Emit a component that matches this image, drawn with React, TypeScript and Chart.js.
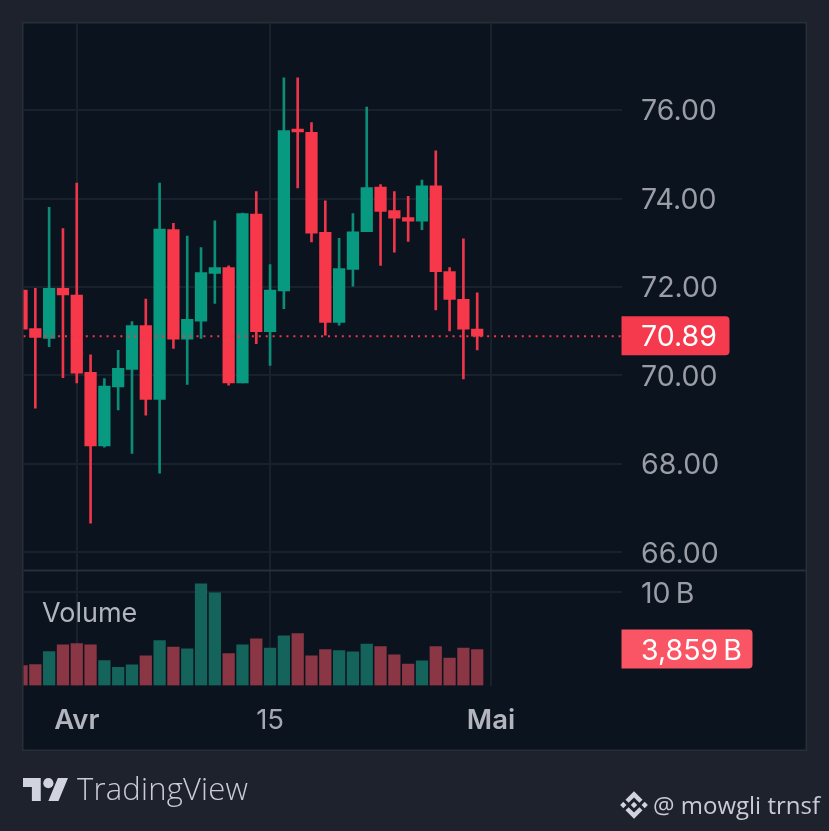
import React, { useEffect, useRef } from "react";
import { Chart, registerables } from "chart.js";

Chart.register(...registerables);

// Day offsets from 1 April; day -4 is clipped by the left edge of the panel.
const days = [-4,-3,-2,-1,0,1,2,3,4,5,6,7,8,9,10,11,12,13,14,15,16,17,18,19,20,21,22,23,24,25,26,27,28,29];
const opens = [71.93,71.06,70.84,71.97,71.82,70.07,68.41,69.74,70.14,71.13,69.46,73.30,70.82,71.23,72.31,72.44,69.83,73.65,70.99,71.91,75.57,75.50,73.24,71.20,72.40,73.25,74.26,73.73,73.57,73.49,74.29,72.35,71.72,71.05];
const highs = [72.20,71.97,73.80,73.32,74.35,70.47,69.93,70.57,71.22,71.73,74.35,73.44,73.15,72.89,73.50,72.48,73.67,74.16,72.51,76.73,76.73,75.72,73.95,73.10,73.66,76.07,74.32,74.16,74.05,74.42,75.08,72.44,73.09,71.87];
const lows = [70.00,69.26,70.65,69.95,69.83,66.66,68.38,69.22,68.24,69.10,67.79,70.61,69.80,70.84,71.63,69.78,69.83,70.72,70.23,71.51,74.24,73.02,70.91,71.14,72.02,73.25,72.49,72.79,73.03,73.30,71.48,71.01,69.92,70.58];
const closes = [71.05,70.86,71.97,71.82,70.05,68.41,69.76,70.16,71.13,69.46,73.31,70.82,71.27,72.33,72.44,69.83,73.66,70.99,71.93,75.54,75.51,73.22,71.20,72.42,73.25,74.25,73.71,73.56,73.49,74.29,72.35,71.72,71.05,70.89];
const volumes = [2.14,2.25,3.64,4.36,4.5,4.36,2.68,1.96,2.21,3.18,4.82,4.11,3.93,10.89,9.93,3.43,4.36,5.0,4.0,5.32,5.57,3.18,3.86,3.75,3.61,4.43,4.18,3.29,2.29,2.64,4.18,2.93,4.0,3.859];
const priceTicks = [66, 68, 70, 72, 74, 76];
const volumeTicks = [10];
const dateTicks = [0, 14, 30];
const dateLabels = ["Avr", "15", "Mai"];
const boldDates = [true, false, true];
const lastPrice = 70.89;
const lastVolumeLabel = "3,859\u2009B";
const lastVolume = 3.859;

const FONT = "Inter, 'Noto Sans', sans-serif";
const UP = "#089981";
const DOWN = "#f7374a";
const UP_WICK = "#0b8d78";
const DOWN_WICK = "#ee364a";
const UP_VOL = "#15645c";
const DOWN_VOL = "#8a3644";
const GRID = "#18222d";
const TEXT = "#9a9da6";

const isUp = (i: number) => closes[i] >= opens[i];

const noPadding = (s: any) => {
  s.paddingTop = 0;
  s.paddingBottom = 0;
  s.paddingLeft = 0;
  s.paddingRight = 0;
};

const panelPlugin = {
  id: "panel",
  beforeDraw(chart: any) {
    const { ctx, width, height } = chart;
    ctx.save();
    ctx.fillStyle = "#1e222d";
    ctx.fillRect(0, 0, width, height);
    ctx.fillStyle = "#2a2e39";
    ctx.fillRect(22, 22, 785, 729);
    ctx.fillStyle = "#0b131e";
    ctx.fillRect(23.5, 23.5, 782, 726);
    ctx.restore();
  },
  afterDraw(chart: any) {
    const { ctx } = chart;
    const y = chart.scales.y;
    const yv = chart.scales.yv;
    ctx.save();
    // pane separator
    ctx.fillStyle = "#2a2e39";
    ctx.fillRect(23.5, y.bottom - 1, 782, 2);
    const tag = (text: string, cy: number, w: number, color: string) => {
      ctx.fillStyle = color;
      ctx.beginPath();
      ctx.roundRect(621.5, cy - 20, w, 39, [0, 4, 4, 0]);
      ctx.fill();
      ctx.fillStyle = "#ffffff";
      ctx.font = `28.5px ${FONT}`;
      ctx.textBaseline = "middle";
      ctx.textAlign = "left";
      ctx.fillText(text, 641, cy + 1.5);
    };
    tag(lastPrice.toFixed(2), y.getPixelForValue(lastPrice), 108, "#f43a4c");
    tag(lastVolumeLabel, yv.getPixelForValue(lastVolume), 131, "#fa5565");
    ctx.restore();
  },
};

export default function App() {
  const ref = useRef<HTMLCanvasElement>(null);
  useEffect(() => {
    const xMin = -3.857;
    const xMax = 39.45;
    const chart = new Chart(ref.current as HTMLCanvasElement, {
      type: "bar",
      data: {
        datasets: [
          {
            type: "bar",
            label: "Wick",
            yAxisID: "y",
            data: days.map((d, i) => ({ x: d, y: [lows[i], highs[i]] })),
            backgroundColor: days.map((_, i) => (isUp(i) ? UP_WICK : DOWN_WICK)),
            barThickness: 2,
            grouped: false,
            order: 3,
          },
          {
            type: "bar",
            label: "Body",
            yAxisID: "y",
            data: days.map((d, i) => ({ x: d, y: [opens[i], closes[i]] })),
            backgroundColor: days.map((_, i) => (isUp(i) ? UP : DOWN)),
            barThickness: 11.6,
            grouped: false,
            order: 2,
          },
          {
            type: "bar",
            label: "Volume",
            yAxisID: "yv",
            data: days.map((d, i) => ({ x: d, y: volumes[i] })),
            backgroundColor: days.map((_, i) => (isUp(i) ? UP_VOL : DOWN_VOL)),
            barThickness: 11.6,
            grouped: false,
            order: 2,
          },
          {
            type: "line",
            label: "Last",
            yAxisID: "y",
            data: [
              { x: xMin, y: lastPrice },
              { x: xMax, y: lastPrice },
            ],
            borderColor: "#f23645",
            borderWidth: 2,
            borderDash: [2, 4.92],
            pointRadius: 0,
            order: 1,
          },
        ] as any,
      },
      options: {
        responsive: false,
        animation: false,
        events: [],
        layout: { padding: { left: 23.5, right: 23, top: 23.5, bottom: 81 } },
        plugins: { legend: { display: false }, tooltip: { enabled: false }, title: { display: false } },
        scales: {
          x: {
            type: "linear",
            offset: false,
            min: xMin,
            max: xMax,
            grid: { color: GRID, lineWidth: 2, drawTicks: false, offset: false },
            border: { display: false },
            afterBuildTicks: (s: any) => {
              s.ticks = dateTicks.map((v) => ({ value: v }));
            },
            afterFit: (s: any) => {
              s.height = 64.5;
              noPadding(s);
            },
            ticks: {
              autoSkip: false,
              maxRotation: 0,
              padding: 19,
              color: (c: any) => (boldDates[c.index] ? "#b2b5be" : "#a5a8b1"),
              font: (c: any) => ({ family: FONT, size: 27.5, weight: boldDates[c.index] ? "600" : "400" }),
              callback: (_: any, i: number) => dateLabels[i],
            },
          },
          y: {
            type: "linear",
            position: "right",
            stack: "panes",
            stackWeight: 547,
            weight: 0,
            min: 65.59,
            max: 77.96,
            grid: { color: GRID, lineWidth: 2, drawTicks: false },
            border: { display: false },
            afterBuildTicks: (s: any) => {
              s.ticks = priceTicks.map((v) => ({ value: v }));
            },
            afterFit: (s: any) => {
              s.width = 184.5;
              noPadding(s);
            },
            ticks: {
              padding: 19.5,
              color: TEXT,
              font: { family: FONT, size: 28.5, lineHeight: "3.5px" },
              callback: (v: any) => ["", Number(v).toFixed(2)],
            },
          },
          yv: {
            type: "linear",
            position: "right",
            stack: "panes",
            stackWeight: 115,
            weight: 1,
            min: 0,
            max: 12.33,
            grid: { color: GRID, lineWidth: 2, drawTicks: false },
            border: { display: false },
            afterBuildTicks: (s: any) => {
              s.ticks = volumeTicks.map((v) => ({ value: v }));
            },
            afterFit: (s: any) => {
              s.width = 184.5;
              noPadding(s);
            },
            ticks: {
              padding: 19.5,
              color: TEXT,
              font: { family: FONT, size: 28.5, lineHeight: "3.5px" },
              callback: (v: any) => ["", `${v}\u2009B`],
            },
          },
        },
      } as any,
      plugins: [panelPlugin],
    });
    return () => chart.destroy();
  }, []);

  return (
    <div style={{ position: "absolute", left: 0, top: 0, width: 829, height: 831, overflow: "hidden", background: "#1e222d" }}>
      <canvas ref={ref} width={829} height={831} style={{ display: "block" }} />
      <span
        style={{
          position: "absolute", left: 42, top: 596, font: `27px ${FONT}`, lineHeight: "34px", color: "#b2b5be",
        }}
      >
        Volume
      </span>
      <svg style={{ position: "absolute", left: 23, top: 778 }} width={45} height={23} viewBox="0 4 35.5 18">
        <path d="M14 22H7V11H0V4h14v18zM28 22h-8l7.5-18h8L28 22z" fill="#d1d4dc" />
        <circle cx={20} cy={8} r={4} fill="#d1d4dc" />
      </svg>
      <span
        style={{
          position: "absolute", left: 77, top: 769, font: `300 31px 'Open Sans', sans-serif`, lineHeight: "38px", letterSpacing: "0.2px", color: "#c9ccd4",
        }}
      >
        TradingView
      </span>
      <svg style={{ position: "absolute", left: 620, top: 791 }} width={28} height={28} viewBox="0 0 126 126">
        <path
          fill="#d1d4dc"
          d="M38.73 53.2L63 28.94l24.28 24.28 14.12-14.12L63 .7 24.61 39.09zM.7 63l14.12-14.12L28.94 63 14.82 77.12zM38.73 72.8L63 97.06l24.28-24.28 14.12 14.12L63 125.3 24.61 86.91zM97.06 63l14.12-14.12L125.3 63l-14.12 14.12zM77.32 63L63 48.67 48.69 63 63 77.32z"
        />
      </svg>
      <span
        style={{
          position: "absolute", left: 653, top: 790, font: `24px 'Open Sans', sans-serif`, lineHeight: "30px", color: "#c9ccd4", whiteSpace: "nowrap",
        }}
      >
        @ mowgli trnsf
      </span>
    </div>
  );
}
